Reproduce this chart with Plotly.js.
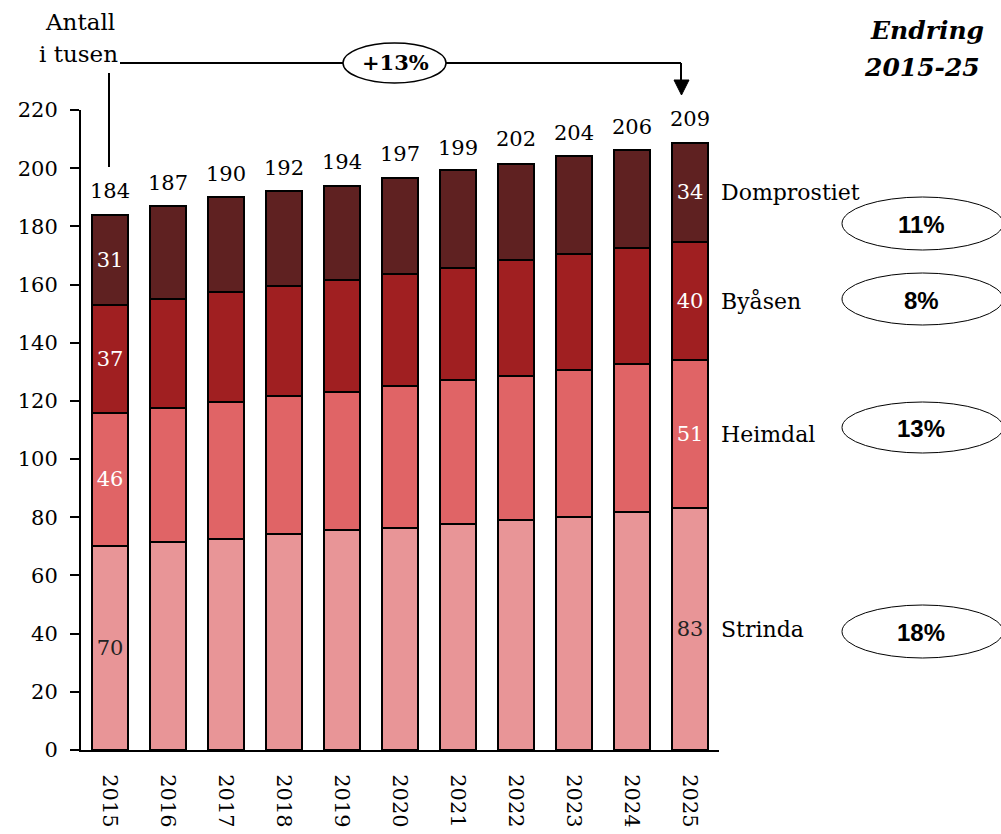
<!DOCTYPE html>
<html><head><meta charset="utf-8">
<script src="https://cdn.plot.ly/plotly-3.0.1.min.js"></script>
<style>body{margin:0;background:#fff}#chart{width:1001px;height:834px}</style>
</head><body><div id="chart"></div>
<script>
const years = ['2015','2016','2017','2018','2019','2020','2021','2022','2023','2024','2025'];
const strinda     = [70.2,71.5,72.7,74.2,75.6,76.3,77.6,79.0,80.2,81.7,83.1];
const heimdal     = [45.6,45.9,46.9,47.4,47.3,48.8,49.5,49.5,50.5,50.9,51.0];
const byasen      = [37.3,37.8,37.8,37.9,38.6,38.4,38.6,39.9,39.7,40.0,40.5];
const domprostiet = [30.9,31.8,32.6,32.5,32.5,33.2,33.6,33.1,33.8,33.6,34.2];
const totals      = [184,187,190,192,194,197,199,202,204,206,209];
const strindaLabels = ['70','','','','','','','','','','83'];
const heimdalLabels = ['46','','','','','','','','','','51'];
const byasenLabels  = ['37','','','','','','','','','','40'];
const domLabels     = ['31','','','','','','','','','','34'];
const districts = ['Strinda','Heimdal','Byåsen','Domprostiet'];
const changes   = ['18%','13%','8%','11%'];
const totalChange = '+13%';
const yTicks = [0,20,40,60,80,100,120,140,160,180,200,220];

const SERIF = 'DejaVu Serif';
const colors = ['#E89597','#E06466','#A01F21','#5F2121'];

// pixel -> paper helpers (plot area: x 81..719, y 110..750)
const PL = 81, PW = 638, PB = 750, PH = 640;
const px = x => (x - PL) / PW;
const py = y => (PB - y) / PH;

function barTrace(name, vals, labels, color, txtColor) {
  return {
    type: 'bar', name: name, x: years, y: vals,
    marker: {color: color, line: {color: '#000', width: 2}},
    text: labels, textposition: 'inside', insidetextanchor: 'middle',
    constraintext: 'none', textangle: 0,
    textfont: {family: SERIF, size: 21, color: txtColor},
    hoverinfo: 'skip'
  };
}

const traces = [
  barTrace(districts[0], strinda, strindaLabels, colors[0], '#222'),
  barTrace(districts[1], heimdal, heimdalLabels, colors[1], '#fff'),
  barTrace(districts[2], byasen, byasenLabels, colors[2], '#fff'),
  barTrace(districts[3], domprostiet, domLabels, colors[3], '#fff'),
  {
    type: 'scatter', mode: 'markers+text', x: years, y: totals,
    marker: {size: 16, color: 'rgba(0,0,0,0)'},
    text: totals.map(String), textposition: 'top center',
    textfont: {family: SERIF, size: 21, color: '#000'},
    hoverinfo: 'skip', cliponaxis: false
  }
];

// right-side district labels at segment centres of the last bar
const last = years.length - 1;
const segs = [strinda, heimdal, byasen, domprostiet];
let cum = 0;
const mids = segs.map(s => { const m = cum + s[last] / 2; cum += s[last]; return m; });

const ellipseY = [[605,658],[402,453],[273,325],[197,250]];

const annotations = [];
const shapes = [];
districts.forEach((d, i) => {
  annotations.push({xref: 'paper', yref: 'y', x: px(719), y: mids[i], text: d,
    showarrow: false, xanchor: 'left', yanchor: 'middle',
    font: {family: SERIF, size: 22, color: '#000'}});
  const [t, b] = ellipseY[i];
  shapes.push({type: 'circle', xref: 'paper', yref: 'paper',
    x0: px(842), x1: px(1003), y0: py(b), y1: py(t), line: {color: '#000', width: 1}});
  annotations.push({xref: 'paper', yref: 'paper', x: px(921), y: py((t + b) / 2 + 1), text: '<b>' + changes[i] + '</b>',
    showarrow: false, xanchor: 'center', yanchor: 'middle',
    font: {family: 'Liberation Sans', size: 24, color: '#000'}});
});

// top annotation: "Antall i tusen" and +13% arrow
annotations.push({xref: 'paper', yref: 'paper', x: px(80), y: py(22), text: 'Antall',
  showarrow: false, xanchor: 'center', yanchor: 'middle', font: {family: SERIF, size: 23, color: '#000'}});
annotations.push({xref: 'paper', yref: 'paper', x: px(78), y: py(54), text: 'i tusen',
  showarrow: false, xanchor: 'center', yanchor: 'middle', font: {family: SERIF, size: 23, color: '#000'}});
annotations.push({xref: 'paper', yref: 'paper', x: px(395), y: py(63), text: '<b>' + totalChange + '</b>',
  showarrow: false, xanchor: 'center', yanchor: 'middle', font: {family: SERIF, size: 21, color: '#000'}});
annotations.push({xref: 'paper', yref: 'paper', x: px(986), y: py(31), text: '<b><i>Endring</i></b>',
  showarrow: false, xanchor: 'right', yanchor: 'middle', font: {family: SERIF, size: 25, color: '#000'}});
annotations.push({xref: 'paper', yref: 'paper', x: px(982), y: py(68), text: '<b><i>2015-25</i></b>',
  showarrow: false, xanchor: 'right', yanchor: 'middle', font: {family: SERIF, size: 25, color: '#000'}});

const L = {color: '#000', width: 2};
shapes.push({type: 'line', xref: 'paper', yref: 'paper', x0: px(109), x1: px(109), y0: py(73), y1: py(167), line: L});
shapes.push({type: 'line', xref: 'paper', yref: 'paper', x0: px(120), x1: px(343), y0: py(63), y1: py(63), line: L});
shapes.push({type: 'circle', xref: 'paper', yref: 'paper', x0: px(343), x1: px(446), y0: py(83), y1: py(43), line: {color: '#000', width: 1.5}});
shapes.push({type: 'line', xref: 'paper', yref: 'paper', x0: px(446), x1: px(681), y0: py(63), y1: py(63), line: L});
shapes.push({type: 'line', xref: 'paper', yref: 'paper', x0: px(681), x1: px(681), y0: py(63), y1: py(81), line: L});
shapes.push({type: 'path', xref: 'paper', yref: 'paper',
  path: `M ${px(674)} ${py(80)} L ${px(689)} ${py(80)} L ${px(681.5)} ${py(95)} Z`,
  fillcolor: '#000', line: {color: '#000', width: 1}});

const layout = {
  width: 1001, height: 834,
  margin: {l: PL, r: 1001 - PL - PW, t: PB - PH, b: 834 - PB, pad: 0},
  paper_bgcolor: '#fff', plot_bgcolor: '#fff',
  barmode: 'stack', bargap: 0.39, showlegend: false,
  xaxis: {type: 'category', range: [-0.5, 10.5], showgrid: false, zeroline: false,
    showline: true, linecolor: '#000', linewidth: 2, ticks: '', tickangle: 90,
    ticklabelstandoff: 18,
    tickfont: {family: SERIF, size: 21, color: '#000'}},
  yaxis: {range: [0, 220], tickvals: yTicks, showgrid: false, zeroline: false,
    showline: true, linecolor: '#000', linewidth: 2, ticks: 'outside', ticklen: 9,
    tickwidth: 2, tickcolor: '#000', ticklabelstandoff: 8,
    tickfont: {family: SERIF, size: 21, color: '#000'}},
  annotations: annotations, shapes: shapes
};

Plotly.newPlot('chart', traces, layout, {displayModeBar: false, staticPlot: true});
</script></body></html>
